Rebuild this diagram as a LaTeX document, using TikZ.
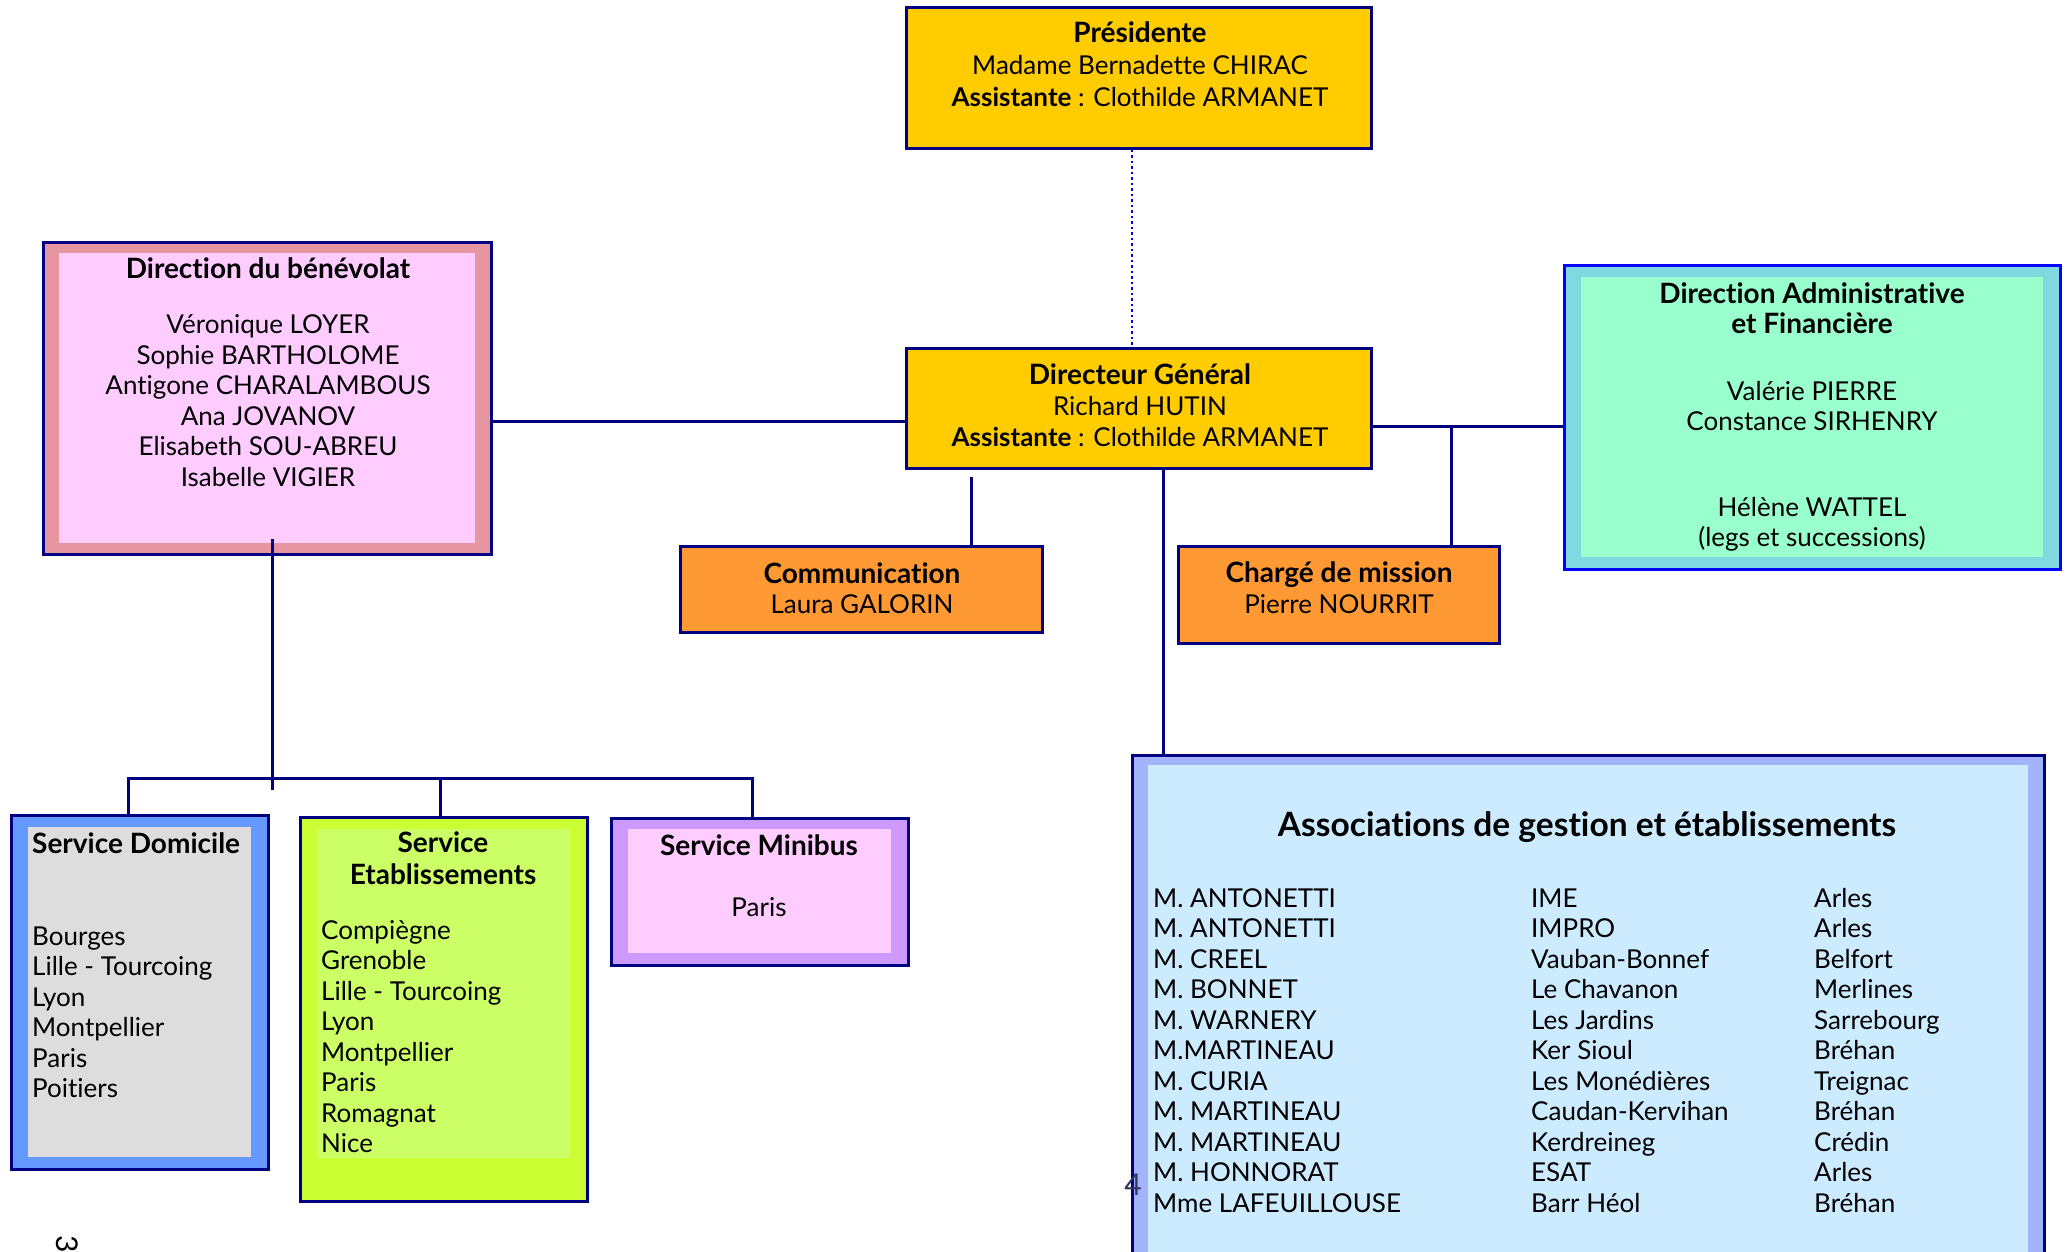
\documentclass[tikz,border=0pt]{standalone}
\usepackage{fontspec}
\setmainfont{Lato}[Ligatures=NoCommon]
\usetikzlibrary{positioning}

\definecolor{navy}{HTML}{000080}
\definecolor{gold}{HTML}{FFCC00}
\definecolor{orangebox}{HTML}{FF9933}
\definecolor{rosebord}{HTML}{E596A0}
\definecolor{rosefond}{HTML}{FFCCFF}
\definecolor{tealbord}{HTML}{80D8E0}
\definecolor{mintfond}{HTML}{99FFCC}
\definecolor{bluebord}{HTML}{6699FF}
\definecolor{greyfond}{HTML}{DDDDDD}
\definecolor{limebord}{HTML}{CCFF33}
\definecolor{limefond}{HTML}{CCFF66}
\definecolor{lilasbord}{HTML}{CC99FF}
\definecolor{assocbord}{HTML}{A3B5FA}
\definecolor{assocfond}{HTML}{CCEBFF}
\definecolor{pagenum}{HTML}{333366}

\newcommand{\titre}[1]{{\fontsize{28}{30.5}\selectfont\bfseries #1}}

\begin{document}
\begin{tikzpicture}[x=1pt,y=-1pt]
  \tikzset{
    box/.style={draw=navy, line width=3pt, inner sep=0pt},
    inset/.style n args={4}{path picture={\fill[#1] ([shift={(#2,-#3)}]path picture bounding box.north west) rectangle ([shift={(-#2,#4)}]path picture bounding box.south east);}},
    txt/.style={align=center, inner sep=0pt, font=\fontsize{26}{30.5}\selectfont},
    list/.style={align=left, inner sep=0pt, anchor=west, font=\fontsize{26}{30.5}\selectfont},
    link/.style={draw=navy, line width=3pt},
  }
  \useasboundingbox (0,0) rectangle (2069,1251);

  % boxes
  \node[box, fill=gold, minimum width=465, minimum height=141] (pres) at (1138.5,77.5) {};
  \node[box, fill=gold, minimum width=465, minimum height=120] (dg) at (1138.5,408) {};
  \node[box, fill=rosebord, inset={rosefond}{16pt}{11pt}{11pt}, minimum width=448, minimum height=312] (db) at (267,398) {};
  \node[box, draw=blue, fill=tealbord, inset={mintfond}{17pt}{12pt}{12pt}, minimum width=496, minimum height=304] (daf) at (1812,417) {};
  \node[box, fill=orangebox, minimum width=362, minimum height=86] (comm) at (861,589) {};
  \node[box, fill=orangebox, minimum width=321, minimum height=97] (charge) at (1338.5,594.5) {};
  \node[box, fill=bluebord, inset={greyfond}{17pt}{12pt}{12pt}, minimum width=257, minimum height=354] (dom) at (139.5,992) {};
  \node[box, fill=limebord, inset={limefond}{17pt}{12pt}{43pt}, minimum width=287, minimum height=384] (etab) at (443.5,1009) {};
  \node[box, fill=lilasbord, inset={rosefond}{17pt}{11pt}{12pt}, minimum width=297, minimum height=147] (mini) at (759.5,891.5) {};
  \node[box, fill=assocbord, inset={assocfond}{16pt}{10pt}{10pt}, minimum width=912, minimum height=510] (assoc) at (1588,1010) {};

  % texts
  \node[txt, font=\fontsize{26}{32}\selectfont] (prestext) at (1140,64.5) {\titre{Présidente}\\Madame Bernadette CHIRAC\\\textbf{Assistante} : Clothilde ARMANET};
  \node[txt, font=\fontsize{26}{31}\selectfont] (dgtext) at (1140,405.5) {\titre{Directeur Général}\\Richard HUTIN\\\textbf{Assistante} : Clothilde ARMANET};
  \node[txt] (dbtext) at (268,372) {\titre{Direction du bénévolat}\\[25pt]Véronique LOYER\\Sophie BARTHOLOME\\Antigone CHARALAMBOUS\\Ana JOVANOV\\Elisabeth SOU-ABREU\\Isabelle VIGIER};
  \node[txt, font=\fontsize{26}{30}\selectfont] (daftext) at (1812,417) {\titre{Direction Administrative}\\\titre{et Financière}\\[37pt]Valérie PIERRE\\Constance SIRHENRY\\[56pt]Hélène WATTEL\\(legs et successions)};
  \node[txt] (commtext) at (862,588) {\titre{Communication}\\Laura GALORIN};
  \node[txt] (chargetext) at (1339,587.5) {\titre{Chargé de mission}\\Pierre NOURRIT};
  \node[list] (domtext) at (32,965.5) {\titre{Service Domicile}\\[61pt]Bourges\\Lille - Tourcoing\\Lyon\\Montpellier\\Paris\\Poitiers};
  \node[txt, font=\fontsize{26}{32}\selectfont] (etabtitle) at (443,858.5) {\titre{Service}\\\titre{Etablissements}};
  \node[list] (etabtext) at (321,1036.5) {Compiègne\\Grenoble\\Lille - Tourcoing\\Lyon\\Montpellier\\Paris\\Romagnat\\Nice};
  \node[txt] (minitext) at (759,876) {\titre{Service Minibus}\\[30.5pt]Paris};
  \node[txt, font=\fontsize{33.5}{36}\selectfont\bfseries] (assoctitle) at (1587,827.5) {Associations de gestion et établissements};
  \node[list] (assocnoms) at (1153,1050.5) {M. ANTONETTI\\M. ANTONETTI\\M. CREEL\\M. BONNET\\M. WARNERY\\M.MARTINEAU\\M. CURIA\\M. MARTINEAU\\M. MARTINEAU\\M. HONNORAT\\Mme LAFEUILLOUSE};
  \node[list] (assocetabs) at (1531,1050.5) {IME\\IMPRO\\Vauban-Bonnef\\Le Chavanon\\Les Jardins\\Ker Sioul\\Les Monédières\\Caudan-Kervihan\\Kerdreineg\\ESAT\\Barr Héol};
  \node[list] (assocvilles) at (1814,1050.5) {Arles\\Arles\\Belfort\\Merlines\\Sarrebourg\\Bréhan\\Treignac\\Bréhan\\Crédin\\Arles\\Bréhan};

  % page numbers
  \node[text=pagenum, inner sep=0pt, font=\fontsize{30}{30}\selectfont] (pagefour) at (1133,1185) {4};
  \node[inner sep=0pt, rotate=-90, font=\fontsize{30}{30}\selectfont] (pagethree) at (67.5,1244.5) {3};

  % links
  \draw[blue, line width=2.5pt, dash pattern=on 2.5pt off 3pt] ([xshift=-6.5pt]pres.south) -- ([xshift=-6.5pt]dg.north);
  \coordinate (dbout) at ([yshift=-23pt]db.east);
  \draw[link] (dbout) -- (dbout -| dg.west);
  \coordinate (dgout) at ([yshift=-18pt]dg.east);
  \draw[link] (dgout) -- (dgout -| daf.west);
  \coordinate (chtop) at ([xshift=112.5pt]charge.north);
  \draw[link] (chtop |- dgout) -- (chtop);
  \coordinate (cmtop) at ([xshift=110pt]comm.north);
  \coordinate (dglow) at ([yshift=-7pt]dg.south);
  \draw[link] (dglow -| cmtop) -- (cmtop);
  \coordinate (astop) at ([xshift=-425pt]assoc.north);
  \draw[link] (dg.south -| astop) -- (astop);
  \coordinate (dbfoot) at ([xshift=5pt,yshift=17pt]db.south);
  \draw[link] (dbfoot) -- ++(0,251);
  \coordinate (bus) at (0,778);
  \coordinate (domtop) at ([xshift=-11.5pt]dom.north);
  \coordinate (etabtop) at ([xshift=-3.5pt]etab.north);
  \coordinate (minitop) at ([xshift=-7.5pt]mini.north);
  \draw[link] (domtop) |- (minitop |- bus) -- (minitop);
  \draw[link] (etabtop) -- (etabtop |- bus);
\end{tikzpicture}
\end{document}
